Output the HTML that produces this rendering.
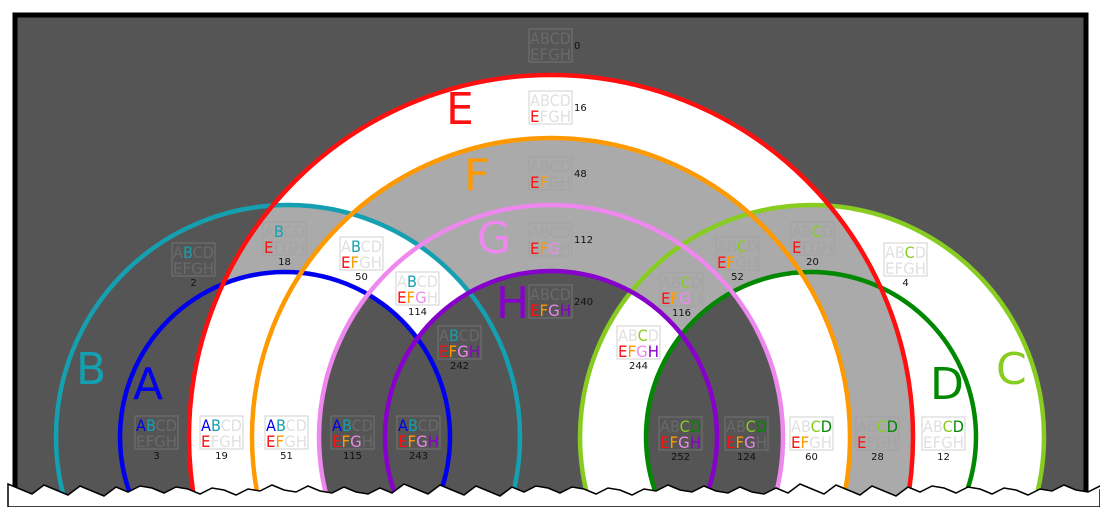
<!DOCTYPE html>
<html><head><meta charset="utf-8"><style>
html,body{margin:0;padding:0;background:#fff;overflow:hidden;width:1100px;height:507px;}
#w{position:relative;width:1100px;height:507px;overflow:hidden;}
canvas,svg{position:absolute;left:0;top:0;display:block;}
.bx{fill:none;stroke:rgba(153,153,153,.45);stroke-width:1;}
text.l{font-family:"DejaVu Sans","Liberation Sans",sans-serif;font-size:16px;}
text.n{font-family:"DejaVu Sans","Liberation Sans",sans-serif;font-size:10px;fill:#111;}
text.big{font-family:"DejaVu Sans","Liberation Sans",sans-serif;font-size:44px;}
.o{fill:rgba(153,153,153,.3)}
.A{fill:#0000ee}.B{fill:#14a0b0}.C{fill:#88cc22}.D{fill:#008800}
.E{fill:#ff1010}.F{fill:#ff9900}.G{fill:#ee88ee}.H{fill:#8800cc}
</style></head><body><div id="w">
<canvas id="c" width="1100" height="507"></canvas>
<svg width="1100" height="507" viewBox="0 0 1100 507">
<g fill="none" stroke-width="4.5">
<circle cx="288" cy="437" r="232" stroke="#14a0b0"/>
<circle cx="285" cy="437" r="165" stroke="#0000ee"/>
<circle cx="812" cy="437" r="232" stroke="#88cc22"/>
<circle cx="811" cy="437" r="165" stroke="#008800"/>
<circle cx="551" cy="437" r="362" stroke="#ff1010"/>
<circle cx="551" cy="437" r="299" stroke="#ff9900"/>
<circle cx="551" cy="437" r="232" stroke="#ee88ee"/>
<circle cx="551" cy="437" r="166" stroke="#8800cc"/>
</g>
<path d="M15,500 V15 H1086 V500" fill="none" stroke="#000" stroke-width="5"/>
<path id="jag" fill="#fff" stroke="#000" stroke-width="1.5"/>
<text class="big E" x="446" y="124">E</text>
<text class="big F" x="464" y="190">F</text>
<text class="big G" x="477" y="253">G</text>
<text class="big H" x="496" y="318">H</text>
<text class="big B" x="76" y="384">B</text>
<text class="big A" x="133" y="399">A</text>
<text class="big D" x="930" y="399">D</text>
<text class="big C" x="996" y="384">C</text>

<g transform="translate(529,29)"><rect class="bx" width="43" height="33"/><text class="l" x="1" y="15" textLength="41" lengthAdjust="spacingAndGlyphs"><tspan class="o">ABCD</tspan></text><text class="l" x="1" y="31" textLength="41" lengthAdjust="spacingAndGlyphs"><tspan class="o">EFGH</tspan></text><text class="n" x="45" y="20">0</text></g>
<g transform="translate(529,91)"><rect class="bx" width="43" height="33"/><text class="l" x="1" y="15" textLength="41" lengthAdjust="spacingAndGlyphs"><tspan class="o">ABCD</tspan></text><text class="l" x="1" y="31" textLength="41" lengthAdjust="spacingAndGlyphs"><tspan class="E">E</tspan><tspan class="o">FGH</tspan></text><text class="n" x="45" y="20">16</text></g>
<g transform="translate(529,157)"><rect class="bx" width="43" height="33"/><text class="l" x="1" y="15" textLength="41" lengthAdjust="spacingAndGlyphs"><tspan class="o">ABCD</tspan></text><text class="l" x="1" y="31" textLength="41" lengthAdjust="spacingAndGlyphs"><tspan class="E">E</tspan><tspan class="F">F</tspan><tspan class="o">GH</tspan></text><text class="n" x="45" y="20">48</text></g>
<g transform="translate(529,223)"><rect class="bx" width="43" height="33"/><text class="l" x="1" y="15" textLength="41" lengthAdjust="spacingAndGlyphs"><tspan class="o">ABCD</tspan></text><text class="l" x="1" y="31" textLength="41" lengthAdjust="spacingAndGlyphs"><tspan class="E">E</tspan><tspan class="F">F</tspan><tspan class="G">G</tspan><tspan class="o">H</tspan></text><text class="n" x="45" y="20">112</text></g>
<g transform="translate(529,285)"><rect class="bx" width="43" height="33"/><text class="l" x="1" y="15" textLength="41" lengthAdjust="spacingAndGlyphs"><tspan class="o">ABCD</tspan></text><text class="l" x="1" y="31" textLength="41" lengthAdjust="spacingAndGlyphs"><tspan class="E">E</tspan><tspan class="F">F</tspan><tspan class="G">G</tspan><tspan class="H">H</tspan></text><text class="n" x="45" y="20">240</text></g>

<g transform="translate(172,243)"><rect class="bx" width="43" height="33"/><text class="l" x="1" y="15" textLength="41" lengthAdjust="spacingAndGlyphs"><tspan class="o">A</tspan><tspan class="B">B</tspan><tspan class="o">CD</tspan></text><text class="l" x="1" y="31" textLength="41" lengthAdjust="spacingAndGlyphs"><tspan class="o">EFGH</tspan></text><text class="n" x="21.5" y="43" text-anchor="middle">2</text></g>
<g transform="translate(263,222)"><rect class="bx" width="43" height="33"/><text class="l" x="1" y="15" textLength="41" lengthAdjust="spacingAndGlyphs"><tspan class="o">A</tspan><tspan class="B">B</tspan><tspan class="o">CD</tspan></text><text class="l" x="1" y="31" textLength="41" lengthAdjust="spacingAndGlyphs"><tspan class="E">E</tspan><tspan class="o">FGH</tspan></text><text class="n" x="21.5" y="43" text-anchor="middle">18</text></g>
<g transform="translate(340,237)"><rect class="bx" width="43" height="33"/><text class="l" x="1" y="15" textLength="41" lengthAdjust="spacingAndGlyphs"><tspan class="o">A</tspan><tspan class="B">B</tspan><tspan class="o">CD</tspan></text><text class="l" x="1" y="31" textLength="41" lengthAdjust="spacingAndGlyphs"><tspan class="E">E</tspan><tspan class="F">F</tspan><tspan class="o">GH</tspan></text><text class="n" x="21.5" y="43" text-anchor="middle">50</text></g>
<g transform="translate(396,272)"><rect class="bx" width="43" height="33"/><text class="l" x="1" y="15" textLength="41" lengthAdjust="spacingAndGlyphs"><tspan class="o">A</tspan><tspan class="B">B</tspan><tspan class="o">CD</tspan></text><text class="l" x="1" y="31" textLength="41" lengthAdjust="spacingAndGlyphs"><tspan class="E">E</tspan><tspan class="F">F</tspan><tspan class="G">G</tspan><tspan class="o">H</tspan></text><text class="n" x="21.5" y="43" text-anchor="middle">114</text></g>
<g transform="translate(438,326)"><rect class="bx" width="43" height="33"/><text class="l" x="1" y="15" textLength="41" lengthAdjust="spacingAndGlyphs"><tspan class="o">A</tspan><tspan class="B">B</tspan><tspan class="o">CD</tspan></text><text class="l" x="1" y="31" textLength="41" lengthAdjust="spacingAndGlyphs"><tspan class="E">E</tspan><tspan class="F">F</tspan><tspan class="G">G</tspan><tspan class="H">H</tspan></text><text class="n" x="21.5" y="43" text-anchor="middle">242</text></g>

<g transform="translate(135,416)"><rect class="bx" width="43" height="33"/><text class="l" x="1" y="15" textLength="41" lengthAdjust="spacingAndGlyphs"><tspan class="A">A</tspan><tspan class="B">B</tspan><tspan class="o">CD</tspan></text><text class="l" x="1" y="31" textLength="41" lengthAdjust="spacingAndGlyphs"><tspan class="o">EFGH</tspan></text><text class="n" x="21.5" y="43" text-anchor="middle">3</text></g>
<g transform="translate(200,416)"><rect class="bx" width="43" height="33"/><text class="l" x="1" y="15" textLength="41" lengthAdjust="spacingAndGlyphs"><tspan class="A">A</tspan><tspan class="B">B</tspan><tspan class="o">CD</tspan></text><text class="l" x="1" y="31" textLength="41" lengthAdjust="spacingAndGlyphs"><tspan class="E">E</tspan><tspan class="o">FGH</tspan></text><text class="n" x="21.5" y="43" text-anchor="middle">19</text></g>
<g transform="translate(265,416)"><rect class="bx" width="43" height="33"/><text class="l" x="1" y="15" textLength="41" lengthAdjust="spacingAndGlyphs"><tspan class="A">A</tspan><tspan class="B">B</tspan><tspan class="o">CD</tspan></text><text class="l" x="1" y="31" textLength="41" lengthAdjust="spacingAndGlyphs"><tspan class="E">E</tspan><tspan class="F">F</tspan><tspan class="o">GH</tspan></text><text class="n" x="21.5" y="43" text-anchor="middle">51</text></g>
<g transform="translate(331,416)"><rect class="bx" width="43" height="33"/><text class="l" x="1" y="15" textLength="41" lengthAdjust="spacingAndGlyphs"><tspan class="A">A</tspan><tspan class="B">B</tspan><tspan class="o">CD</tspan></text><text class="l" x="1" y="31" textLength="41" lengthAdjust="spacingAndGlyphs"><tspan class="E">E</tspan><tspan class="F">F</tspan><tspan class="G">G</tspan><tspan class="o">H</tspan></text><text class="n" x="21.5" y="43" text-anchor="middle">115</text></g>
<g transform="translate(397,416)"><rect class="bx" width="43" height="33"/><text class="l" x="1" y="15" textLength="41" lengthAdjust="spacingAndGlyphs"><tspan class="A">A</tspan><tspan class="B">B</tspan><tspan class="o">CD</tspan></text><text class="l" x="1" y="31" textLength="41" lengthAdjust="spacingAndGlyphs"><tspan class="E">E</tspan><tspan class="F">F</tspan><tspan class="G">G</tspan><tspan class="H">H</tspan></text><text class="n" x="21.5" y="43" text-anchor="middle">243</text></g>

<g transform="translate(617,326)"><rect class="bx" width="43" height="33"/><text class="l" x="1" y="15" textLength="41" lengthAdjust="spacingAndGlyphs"><tspan class="o">AB</tspan><tspan class="C">C</tspan><tspan class="o">D</tspan></text><text class="l" x="1" y="31" textLength="41" lengthAdjust="spacingAndGlyphs"><tspan class="E">E</tspan><tspan class="F">F</tspan><tspan class="G">G</tspan><tspan class="H">H</tspan></text><text class="n" x="21.5" y="43" text-anchor="middle">244</text></g>
<g transform="translate(660,273)"><rect class="bx" width="43" height="33"/><text class="l" x="1" y="15" textLength="41" lengthAdjust="spacingAndGlyphs"><tspan class="o">AB</tspan><tspan class="C">C</tspan><tspan class="o">D</tspan></text><text class="l" x="1" y="31" textLength="41" lengthAdjust="spacingAndGlyphs"><tspan class="E">E</tspan><tspan class="F">F</tspan><tspan class="G">G</tspan><tspan class="o">H</tspan></text><text class="n" x="21.5" y="43" text-anchor="middle">116</text></g>
<g transform="translate(716,237)"><rect class="bx" width="43" height="33"/><text class="l" x="1" y="15" textLength="41" lengthAdjust="spacingAndGlyphs"><tspan class="o">AB</tspan><tspan class="C">C</tspan><tspan class="o">D</tspan></text><text class="l" x="1" y="31" textLength="41" lengthAdjust="spacingAndGlyphs"><tspan class="E">E</tspan><tspan class="F">F</tspan><tspan class="o">GH</tspan></text><text class="n" x="21.5" y="43" text-anchor="middle">52</text></g>
<g transform="translate(791,222)"><rect class="bx" width="43" height="33"/><text class="l" x="1" y="15" textLength="41" lengthAdjust="spacingAndGlyphs"><tspan class="o">AB</tspan><tspan class="C">C</tspan><tspan class="o">D</tspan></text><text class="l" x="1" y="31" textLength="41" lengthAdjust="spacingAndGlyphs"><tspan class="E">E</tspan><tspan class="o">FGH</tspan></text><text class="n" x="21.5" y="43" text-anchor="middle">20</text></g>
<g transform="translate(884,243)"><rect class="bx" width="43" height="33"/><text class="l" x="1" y="15" textLength="41" lengthAdjust="spacingAndGlyphs"><tspan class="o">AB</tspan><tspan class="C">C</tspan><tspan class="o">D</tspan></text><text class="l" x="1" y="31" textLength="41" lengthAdjust="spacingAndGlyphs"><tspan class="o">EFGH</tspan></text><text class="n" x="21.5" y="43" text-anchor="middle">4</text></g>

<g transform="translate(659,417)"><rect class="bx" width="43" height="33"/><text class="l" x="1" y="15" textLength="41" lengthAdjust="spacingAndGlyphs"><tspan class="o">AB</tspan><tspan class="C">C</tspan><tspan class="D">D</tspan></text><text class="l" x="1" y="31" textLength="41" lengthAdjust="spacingAndGlyphs"><tspan class="E">E</tspan><tspan class="F">F</tspan><tspan class="G">G</tspan><tspan class="H">H</tspan></text><text class="n" x="21.5" y="43" text-anchor="middle">252</text></g>
<g transform="translate(725,417)"><rect class="bx" width="43" height="33"/><text class="l" x="1" y="15" textLength="41" lengthAdjust="spacingAndGlyphs"><tspan class="o">AB</tspan><tspan class="C">C</tspan><tspan class="D">D</tspan></text><text class="l" x="1" y="31" textLength="41" lengthAdjust="spacingAndGlyphs"><tspan class="E">E</tspan><tspan class="F">F</tspan><tspan class="G">G</tspan><tspan class="o">H</tspan></text><text class="n" x="21.5" y="43" text-anchor="middle">124</text></g>
<g transform="translate(790,417)"><rect class="bx" width="43" height="33"/><text class="l" x="1" y="15" textLength="41" lengthAdjust="spacingAndGlyphs"><tspan class="o">AB</tspan><tspan class="C">C</tspan><tspan class="D">D</tspan></text><text class="l" x="1" y="31" textLength="41" lengthAdjust="spacingAndGlyphs"><tspan class="E">E</tspan><tspan class="F">F</tspan><tspan class="o">GH</tspan></text><text class="n" x="21.5" y="43" text-anchor="middle">60</text></g>
<g transform="translate(856,417)"><rect class="bx" width="43" height="33"/><text class="l" x="1" y="15" textLength="41" lengthAdjust="spacingAndGlyphs"><tspan class="o">AB</tspan><tspan class="C">C</tspan><tspan class="D">D</tspan></text><text class="l" x="1" y="31" textLength="41" lengthAdjust="spacingAndGlyphs"><tspan class="E">E</tspan><tspan class="o">FGH</tspan></text><text class="n" x="21.5" y="43" text-anchor="middle">28</text></g>
<g transform="translate(922,417)"><rect class="bx" width="43" height="33"/><text class="l" x="1" y="15" textLength="41" lengthAdjust="spacingAndGlyphs"><tspan class="o">AB</tspan><tspan class="C">C</tspan><tspan class="D">D</tspan></text><text class="l" x="1" y="31" textLength="41" lengthAdjust="spacingAndGlyphs"><tspan class="o">EFGH</tspan></text><text class="n" x="21.5" y="43" text-anchor="middle">12</text></g>
</svg>
</div>
<script>
(function(){
var cv=document.getElementById('c'),ctx=cv.getContext('2d');
var W=1100,H=507,img=ctx.createImageData(W,H),d=img.data;
function inC(x,y,cx,cy,r){var dx=x-cx,dy=y-cy;return dx*dx+dy*dy<=r*r;}
var D=85,Wh=255,G=170;
var T=[[D,D,D,Wh,Wh],[Wh,G,Wh,G,G],[G,Wh,Wh,G,Wh],[G,Wh,D,G,D],[D,D,D,Wh,D]];
for(var y=0;y<H;y++)for(var x=0;x<W;x++){
 var i=(y*W+x)*4,v=255;
 if(x>=15&&x<=1086&&y>=15&&y<=500){
  var s=0;
  if(inC(x,y,288,437,232))s=inC(x,y,285,437,165)?2:1;
  else if(inC(x,y,812,437,232))s=inC(x,y,811,437,165)?4:3;
  var m=0;
  if(inC(x,y,551,437,362)){m=1;if(inC(x,y,551,437,299)){m=2;if(inC(x,y,551,437,232)){m=3;if(inC(x,y,551,437,166))m=4;}}}
  v=T[m][s];
 }
 d[i]=d[i+1]=d[i+2]=v;d[i+3]=255;
}
ctx.putImageData(img,0,0);
var p="M8,507 L8,490";
for(var k=0;k<=92;k++){var x=8+k*12;var y=489+((k*37)%11)-5+((k*13)%3);p+=" L"+x+","+y;}
p+=" L1100,490 L1100,507 Z";
document.getElementById('jag').setAttribute('d',p);
})();
</script>
</body></html>
